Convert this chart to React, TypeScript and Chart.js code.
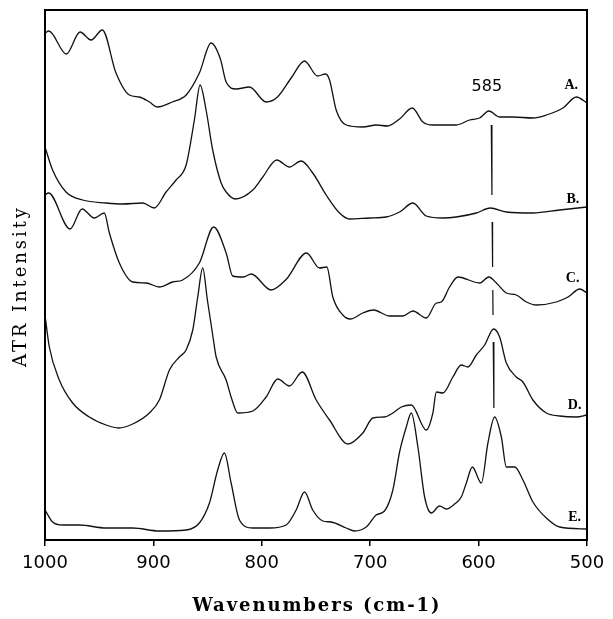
import React, { useEffect, useRef } from "react";
import { Chart, registerables } from "chart.js";

Chart.register(...registerables);

// ---- Data (wavenumber in cm-1, ATR intensity in arbitrary stacked units) ----
const A_WN = [1000, 996.5, 980.3, 967.7, 957.5, 947.1, 934.5, 922.2, 912.9, 903.7, 896.3, 882.5, 869.8, 857.6, 846.8, 838.2, 832.9, 823.7, 811.4, 796, 785.5, 772.9, 760.6, 748.6, 741.2, 737.5, 731.4, 722.1, 706.8, 694.4, 684, 672.9, 661.2, 651.4, 642.2, 620.6, 608.3, 599.1, 590.5, 580.6, 568.3, 549.9, 537.5, 522.2, 509.8, 500];
const A_I = [5.07, 5.09, 4.86, 5.08, 5.0, 5.1, 4.67, 4.45, 4.43, 4.38, 4.33, 4.38, 4.45, 4.67, 4.97, 4.81, 4.58, 4.51, 4.53, 4.38, 4.43, 4.62, 4.79, 4.64, 4.66, 4.6, 4.3, 4.15, 4.13, 4.15, 4.14, 4.21, 4.32, 4.18, 4.15, 4.15, 4.2, 4.22, 4.29, 4.23, 4.23, 4.22, 4.25, 4.32, 4.43, 4.37];

const B_WN = [1000, 993, 980.6, 965.3, 943.7, 928.4, 909.9, 899.1, 888.3, 879.1, 869.8, 862.2, 856.9, 851.4, 845.3, 837.5, 832.9, 824.3, 808.3, 799.1, 786.2, 774.5, 763.7, 753, 740.6, 728.3, 719.1, 700.6, 685.2, 672.9, 660.6, 648.3, 632.9, 620.6, 602.1, 589.2, 574.4, 549.9, 525.2, 500];
const B_I = [3.93, 3.7, 3.48, 3.4, 3.37, 3.36, 3.37, 3.32, 3.48, 3.6, 3.75, 4.2, 4.55, 4.3, 3.9, 3.57, 3.48, 3.41, 3.5, 3.63, 3.8, 3.73, 3.79, 3.67, 3.45, 3.27, 3.21, 3.22, 3.23, 3.28, 3.37, 3.24, 3.22, 3.23, 3.27, 3.32, 3.28, 3.27, 3.3, 3.33];

const C_WN = [1000, 996.7, 976.9, 965.8, 954.5, 945.3, 940.6, 931.4, 919.1, 906.8, 894.5, 882.2, 873, 857.6, 844.4, 832.9, 826.8, 817, 809.8, 791.4, 777.2, 758.8, 746.8, 740, 734.5, 725.3, 718.4, 706.8, 696.9, 682.2, 669.9, 660.6, 648.3, 639, 634.4, 626.8, 619.1, 599.1, 590.5, 583.6, 574.4, 565.2, 555.9, 546.7, 528.3, 517.5, 506.7, 500];
const C_I = [3.45, 3.47, 3.11, 3.31, 3.22, 3.27, 3.07, 2.77, 2.58, 2.57, 2.53, 2.58, 2.6, 2.77, 3.13, 2.87, 2.64, 2.63, 2.66, 2.5, 2.61, 2.87, 2.72, 2.73, 2.43, 2.25, 2.21, 2.27, 2.3, 2.24, 2.24, 2.29, 2.22, 2.37, 2.38, 2.53, 2.63, 2.57, 2.63, 2.57, 2.47, 2.45, 2.38, 2.35, 2.38, 2.43, 2.51, 2.47];

const D_WN = [1000, 996, 986.8, 974.5, 959.1, 943.7, 932.1, 919.1, 903.7, 894.5, 885.2, 876, 869.8, 863.7, 859.1, 854.5, 850.2, 845.3, 842.1, 832.9, 828, 822.2, 808.3, 796, 785.3, 774.5, 762.7, 749.8, 737.5, 720.6, 706.8, 697.6, 686.8, 679.1, 671.3, 662.1, 648.3, 642.2, 639, 632.9, 623.7, 616, 609.9, 602.1, 594.4, 586.1, 580.6, 574.4, 565.2, 559.1, 549.9, 537.5, 525.2, 509.8, 500];
const D_I = [2.25, 1.93, 1.6, 1.37, 1.23, 1.15, 1.12, 1.16, 1.27, 1.4, 1.7, 1.83, 1.9, 2.1, 2.43, 2.72, 2.4, 2.05, 1.83, 1.6, 1.42, 1.27, 1.29, 1.43, 1.61, 1.54, 1.68, 1.4, 1.2, 0.96, 1.07, 1.22, 1.23, 1.27, 1.33, 1.35, 1.1, 1.27, 1.48, 1.47, 1.63, 1.75, 1.73, 1.85, 1.95, 2.11, 2.03, 1.77, 1.63, 1.58, 1.4, 1.27, 1.24, 1.23, 1.25];

const E_WN = [1000, 993, 983.8, 968.3, 943.7, 919.1, 894.5, 869.8, 857.6, 848.3, 840.7, 834.5, 828.3, 820.6, 808.3, 792.9, 777.5, 768.3, 760.6, 753, 743.7, 736, 722.1, 714.5, 703.7, 694.4, 686.8, 679.1, 672.9, 666.7, 662.1, 656, 649.8, 643.6, 636, 629.8, 622.1, 616, 611.3, 605.8, 597.5, 591.4, 585.2, 579, 574.4, 566.7, 559.1, 549.9, 537.5, 525.2, 500];
const E_I = [0.3, 0.18, 0.15, 0.15, 0.12, 0.12, 0.09, 0.1, 0.17, 0.37, 0.7, 0.87, 0.57, 0.2, 0.12, 0.12, 0.15, 0.3, 0.48, 0.3, 0.19, 0.18, 0.12, 0.09, 0.13, 0.25, 0.29, 0.5, 0.88, 1.13, 1.27, 0.93, 0.43, 0.27, 0.34, 0.31, 0.36, 0.43, 0.57, 0.73, 0.57, 0.97, 1.23, 1.03, 0.73, 0.73, 0.6, 0.38, 0.22, 0.13, 0.11];

// 585 cm-1 marker (broken vertical line; null = gap)
const MARK_WN = [588.3, 587.7, 587.6, 587.5, 587.1, 587.0, 586.9, 586.7, 586.6, 586.5, 585.9];
const MARK_I = [4.15, 3.45, null, 3.18, 2.73, null, 2.5, 2.25, null, 1.98, 1.32];
const MARK_LABEL = "585";
const MARK_LABEL_WN = 592.4;
const MARK_LABEL_I = 4.53;

const SERIES_LABELS = ["A.", "B.", "C.", "D.", "E."];
const LABEL_WN = [514.5, 513, 513.3, 511.4, 511.4];
const LABEL_I = [4.55, 3.41, 2.62, 1.35, 0.23];

const X_TICKS = [1000, 900, 800, 700, 600, 500];
const X_TITLE = "Wavenumbers (cm-1)";
const Y_TITLE = "ATR Intensity";

const SERIES_WN = [A_WN, B_WN, C_WN, D_WN, E_WN];
const SERIES_I = [A_I, B_I, C_I, D_I, E_I];

function drawSpaced(ctx: CanvasRenderingContext2D, text: string, x: number, y: number, target: number) {
  const c: any = ctx;
  c.letterSpacing = "0px";
  const w = ctx.measureText(text).width;
  const ls = (target - w) / Math.max(1, text.length - 1);
  c.letterSpacing = ls + "px";
  ctx.textAlign = "left";
  ctx.fillText(text, x - target / 2, y);
  c.letterSpacing = "0px";
}

export default function App() {
  const ref = useRef<HTMLCanvasElement>(null);

  useEffect(() => {
    if (!ref.current) return;
    const datasets: any[] = SERIES_WN.map((wn, s) => ({
      label: SERIES_LABELS[s],
      data: wn.map((w, i) => ({ x: w, y: SERIES_I[s][i] })),
      borderColor: "#111",
      borderWidth: 1.3,
      pointRadius: 0,
      cubicInterpolationMode: "monotone",
      fill: false,
    }));
    datasets.push({
      label: "585",
      data: MARK_WN.map((w, i) => ({ x: w, y: MARK_I[i] })),
      borderColor: "#111",
      borderWidth: 1.2,
      pointRadius: 0,
      tension: 0,
      spanGaps: false,
      fill: false,
    });

    const overlay = {
      id: "overlay",
      afterDraw(chart: any) {
        const { ctx, chartArea, scales } = chart;
        const xs = scales.x;
        const ys = scales.y;
        ctx.save();
        // frame
        ctx.strokeStyle = "#000";
        ctx.lineWidth = 2;
        ctx.strokeRect(chartArea.left, chartArea.top, chartArea.right - chartArea.left, chartArea.bottom - chartArea.top);
        // series labels
        ctx.fillStyle = "#000";
        ctx.textBaseline = "middle";
        ctx.textAlign = "center";
        ctx.font = 'bold 14px "Liberation Serif"';
        SERIES_LABELS.forEach((t, i) => {
          ctx.fillText(t, xs.getPixelForValue(LABEL_WN[i]), ys.getPixelForValue(LABEL_I[i]));
        });
        ctx.font = '16px "DejaVu Sans"';
        ctx.fillText(MARK_LABEL, xs.getPixelForValue(MARK_LABEL_WN), ys.getPixelForValue(MARK_LABEL_I));
        // x title
        ctx.font = 'bold 18px "DejaVu Serif"';
        drawSpaced(ctx, X_TITLE, 316, 606, 247);
        // y title
        ctx.translate(21.5, 287.5);
        ctx.rotate(-Math.PI / 2);
        ctx.font = '18px "DejaVu Serif"';
        drawSpaced(ctx, Y_TITLE, 0, 0, 159);
        ctx.restore();
      },
    };

    const chart = new Chart(ref.current, {
      type: "line",
      data: { datasets },
      options: {
        animation: false,
        responsive: true,
        maintainAspectRatio: false,
        layout: { padding: { top: 10, right: 26, left: 0, bottom: 0 } },
        plugins: { legend: { display: false }, tooltip: { enabled: false } },
        scales: {
          x: {
            type: "linear",
            reverse: true,
            min: 500,
            max: 1000,
            afterFit: (s: any) => {
              s.height = 79;
            },
            afterBuildTicks: (s: any) => {
              s.ticks = X_TICKS.map((v) => ({ value: v }));
            },
            ticks: {
              color: "#000",
              padding: 7,
              maxRotation: 0,
              font: { family: '"DejaVu Sans"', size: 18 },
              callback: (v: any) => String(v),
            },
            grid: {
              display: true,
              drawOnChartArea: false,
              drawTicks: true,
              tickLength: 6,
              color: "#000",
              lineWidth: 1.5,
            },
            border: { display: false },
          },
          y: {
            type: "linear",
            min: 0,
            max: 5.3,
            afterFit: (s: any) => {
              s.width = 45;
            },
            ticks: { display: false },
            grid: { display: false },
            border: { display: false },
          },
        },
      } as any,
      plugins: [overlay],
    });
    return () => chart.destroy();
  }, []);

  return (
    <div style={{ position: "absolute", left: 0, top: 0, width: 613, height: 619, background: "#fff" }}>
      <canvas ref={ref} />
    </div>
  );
}
